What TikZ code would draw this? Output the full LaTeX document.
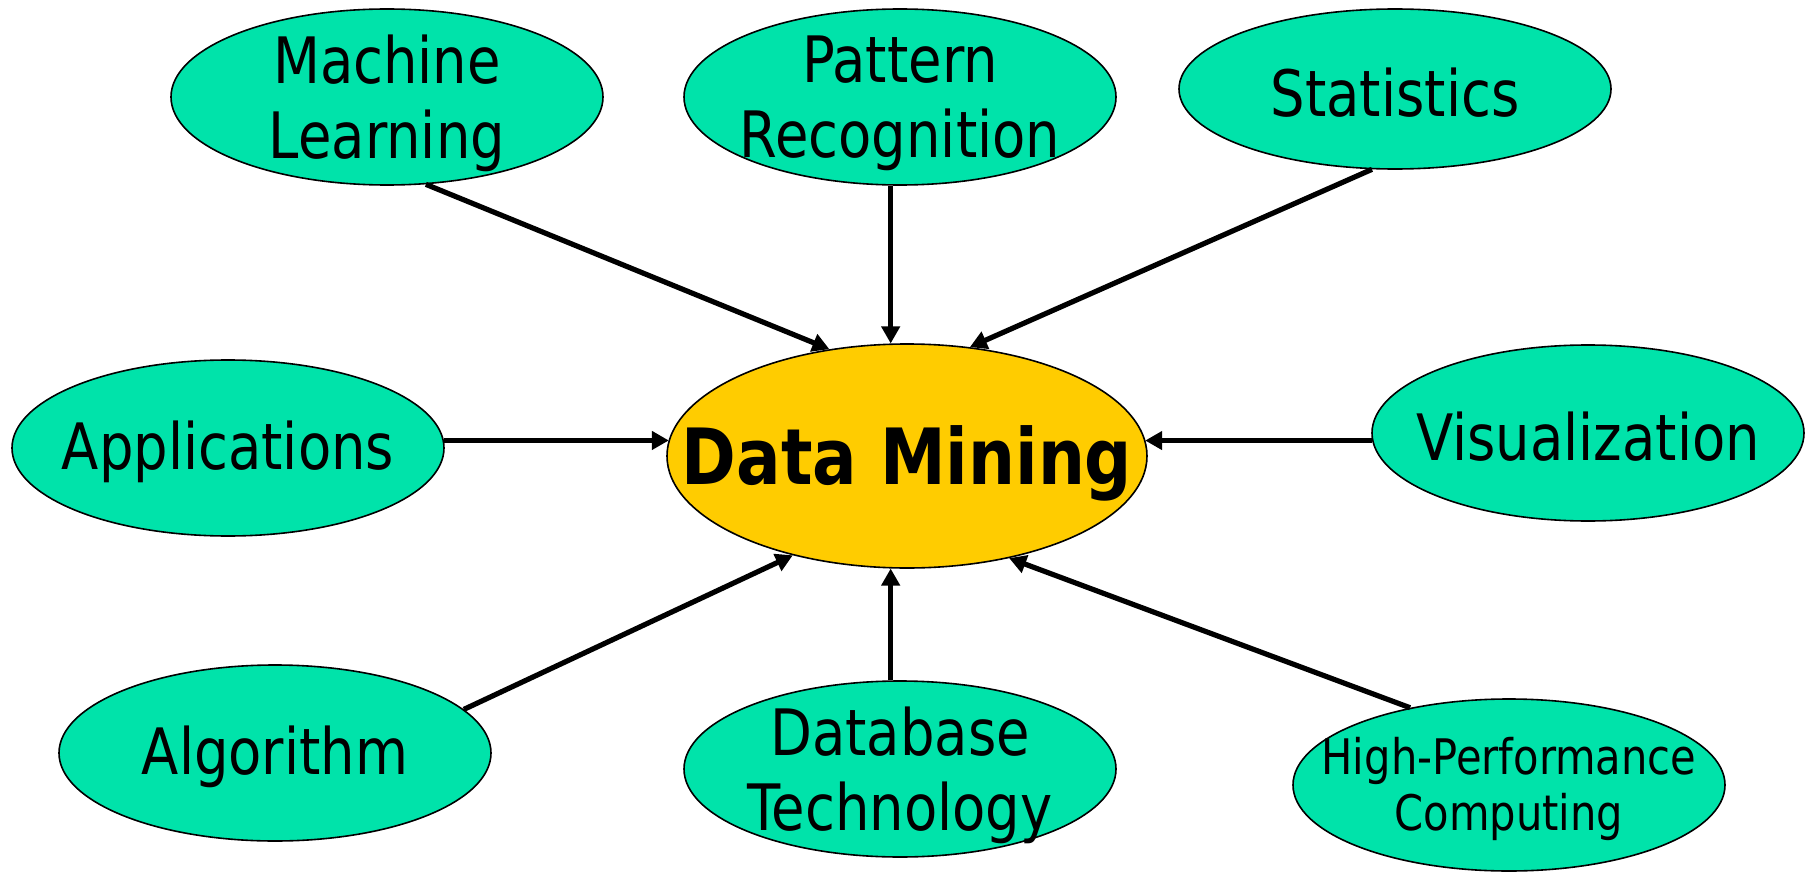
\documentclass[tikz,border=0pt]{standalone}
\usepackage{fontspec}
\setmainfont{DejaVu Sans}[FakeStretch=0.85]
\usetikzlibrary{arrows.meta,shapes.geometric}
\definecolor{bubgreen}{RGB}{0,227,170}
\definecolor{dmyellow}{RGB}{255,204,0}
\begin{document}
\begin{tikzpicture}[x=0.5pt,y=-0.5pt,
  bub/.style={ellipse, draw=black, line width=0.8pt, fill=bubgreen, inner sep=0pt,
              minimum width=216pt, minimum height=88pt},
  core/.style={ellipse, draw=black, line width=0.8pt, fill=dmyellow, inner sep=0pt,
              minimum width=240pt, minimum height=112pt},
  lbl/.style={inner sep=0pt, align=center, font=\fontsize{32}{37.5}\selectfont},
  small/.style={inner sep=0pt, align=center, font=\fontsize{24.5}{28}\selectfont},
  big/.style={inner sep=0pt, align=center, font=\fontsize{38.8}{44}\selectfont\bfseries},
  arr/.style={line width=2.6pt, -{Triangle[length=8.5pt,width=9pt]}}]
\useasboundingbox (0,0) rectangle (1810,872);
\fill[white] (0,0) rectangle (1810,872);

\node[bub] (ml) at (387,97) {};
\node[bub] (pr) at (900,97) {};
\node[bub, minimum height=80pt] (st) at (1395,89) {};
\node[bub] (app) at (228,448) {};
\node[core] (dm) at (907,456) {};
\node[bub] (vis) at (1588,433) {};
\node[bub] (alg) at (275,753) {};
\node[bub] (db) at (900,769) {};
\node[bub, minimum height=86pt] (hpc) at (1509,785) {};

\node[lbl] (ml-t) at (387,103) {Machine\\Learning};
\node[lbl] (pr-t) at (900,103) {Pattern\\Recognition};
\node[lbl] (st-t) at (1395,93) {Statistics};
\node[lbl] (app-t) at (228,452) {Applications};
\node[big] (dm-t) at (907,463) {Data Mining};
\node[lbl] (vis-t) at (1588,437) {Visualization};
\node[lbl] (alg-t) at (275,757) {Algorithm};
\node[lbl] (db-t) at (900,775) {Database\\Technology};
\node[small] (hpc-t) at (1509,789) {High-Performance\\Computing};

\draw[arr] (ml.-66) -- (dm.126);
\draw[arr] (pr.-96) -- (pr.-96 |- dm.98);
\draw[arr] (st.-106) -- (dm.60);
\draw[arr] (app.2) -- (app.2 -| dm.176);
\draw[arr] (vis.182) -- (vis.182 -| dm.4);
\draw[arr] (alg.13.5) -- (dm.-139);
\draw[arr] (db.96) -- (db.96 |- dm.-98);
\draw[arr] (hpc.142) -- (dm.-45);
\end{tikzpicture}
\end{document}
